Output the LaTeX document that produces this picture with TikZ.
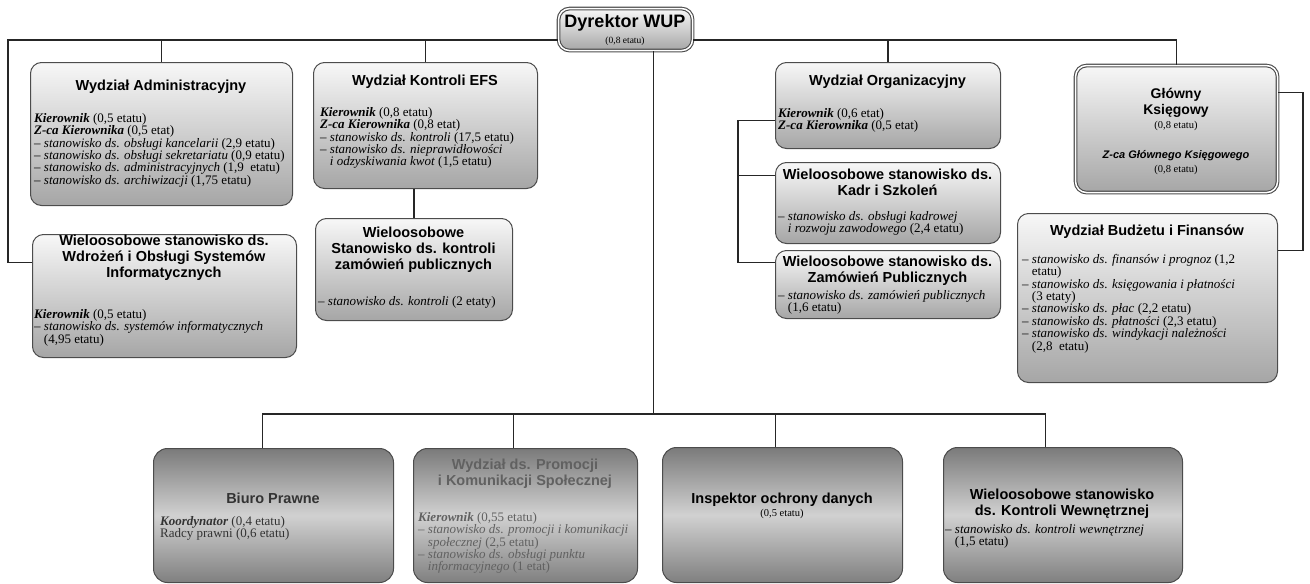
\documentclass[tikz,border=0pt]{standalone}
\usepackage{fontspec}
\setmainfont{Liberation Serif}
\setsansfont{Liberation Sans}
\usepackage{tikz}
\newcommand{\kier}[1]{\textbf{\textit{#1}}}
\newcommand{\ind}{\hphantom{-- }}

\begin{document}
\begin{tikzpicture}[x=1pt, y=-1pt,
    box/.style = {draw=black!70, line width=1pt, rounded corners=11pt, top color=black!3, bottom color=black!35, anchor=north west, inner sep=0pt},
    lowbox/.style = {box, rounded corners=14pt, top color=black!52, bottom color=black!50, middle color=black!18},
    dbl/.style = {double=white, double distance=1.5pt, line width=1.1pt},
    ttl/.style = {font=\sffamily\bfseries\fontsize{14.5}{16}\selectfont, align=center, inner sep=0pt},
    body/.style = {font=\fontsize{13}{12.4}\selectfont, align=left, anchor=north west, inner sep=0pt},
    note/.style = {font=\fontsize{10.5}{12}\selectfont, inner sep=0pt},
    line/.style = {draw=black!85, line width=1.3pt}]
    \useasboundingbox (0,0) rectangle (1310,584);

    % Nodes
    \node[box, dbl, minimum width=134pt, minimum height=42pt] (dyr) at (558,8) {};
    \node[box, minimum width=262pt, minimum height=143pt] (adm) at (30,62) {};
    \node[box, minimum width=264pt, minimum height=123pt] (wdr) at (32,234) {};
    \node[box, minimum width=224pt, minimum height=126pt] (efs) at (313,62) {};
    \node[box, minimum width=197pt, minimum height=102pt] (kzp) at (315,218) {};
    \node[box, minimum width=225pt, minimum height=86pt] (org) at (775,62) {};
    \node[box, minimum width=225pt, minimum height=81pt] (kad) at (775,162) {};
    \node[box, minimum width=225pt, minimum height=68pt] (zam) at (775,250) {};
    \node[box, dbl, minimum width=202pt, minimum height=127pt] (ks) at (1075,65) {};
    \node[box, minimum width=260pt, minimum height=169pt] (bud) at (1017,213) {};
    \node[lowbox, minimum width=240pt, minimum height=134pt] (biu) at (153,448) {};
    \node[lowbox, minimum width=224pt, minimum height=134pt] (pro) at (413,448) {};
    \node[lowbox, minimum width=240pt, minimum height=135pt] (ins) at (662,447) {};
    \node[lowbox, minimum width=239pt, minimum height=135pt] (kw) at (943,447) {};

    % Texts
    \node[ttl, font=\sffamily\bfseries\fontsize{18}{20}\selectfont] (dyrT) at (625,23) {Dyrektor WUP};
    \node[note, font=\fontsize{9.5}{11}\selectfont] (dyrN) at (625,41) {(0,8 etatu)};

    \node[ttl] (admT) at (161,87) {Wydział Administracyjny};
    \node[body] (admB) at (34,113) {\kier{Kierownik} (0,5 etatu)\\
      \kier{Z-ca Kierownika} (0,5 etat)\\
      -- \textit{stanowisko ds. obsługi kancelarii} (2,9 etatu)\\
      -- \textit{stanowisko ds. obsługi sekretariatu} (0,9 etatu)\\
      -- \textit{stanowisko ds. administracyjnych} (1,9 \ etatu)\\
      -- \textit{stanowisko ds. archiwizacji} (1,75 etatu)};

    \node[ttl] (wdrT) at (164,258) {Wieloosobowe stanowisko ds.\\Wdrożeń i Obsługi Systemów\\Informatycznych};
    \node[body] (wdrB) at (34,309) {\kier{Kierownik} (0,5 etatu)\\
      -- \textit{stanowisko ds. systemów informatycznych}\\
      \ind(4,95 etatu)};

    \node[ttl] (efsT) at (425,82) {Wydział Kontroli EFS};
    \node[body] (efsB) at (320,107) {\kier{Kierownik} (0,8 etatu)\\
      \kier{Z-ca Kierownika} (0,8 etat)\\
      -- \textit{stanowisko ds. kontroli} (17,5 etatu)\\
      -- \textit{stanowisko ds. nieprawidłowości}\\
      \ind\textit{i odzyskiwania kwot} (1,5 etatu)};

    \node[ttl] (kzpT) at (413.5,250) {Wieloosobowe\\Stanowisko ds. kontroli\\zamówień publicznych};
    \node[body] (kzpB) at (318,296) {-- \textit{stanowisko ds. kontroli} (2 etaty)};

    \node[ttl] (orgT) at (887.5,82) {Wydział Organizacyjny};
    \node[body] (orgB) at (778,108) {\kier{Kierownik} (0,6 etat)\\
      \kier{Z-ca Kierownika} (0,5 etat)};

    \node[ttl] (kadT) at (887.5,182) {Wieloosobowe stanowisko ds.\\Kadr i Szkoleń};
    \node[body] (kadB) at (778,211) {-- \textit{stanowisko ds. obsługi kadrowej}\\
      \ind\textit{i rozwoju zawodowego} (2,4 etatu)};

    \node[ttl] (zamT) at (887.5,271) {Wieloosobowe stanowisko ds.\\Zamówień Publicznych};
    \node[body] (zamB) at (778,290) {-- \textit{stanowisko ds. zamówień publicznych}\\
      \ind(1,6 etatu)};

    \node[ttl, font=\sffamily\bfseries\fontsize{14}{16}\selectfont] (ksT) at (1176,103) {Główny\\Księgowy};
    \node[note] (ksN) at (1176,126) {(0,8 etatu)};
    \node[note, font=\sffamily\bfseries\itshape\fontsize{11}{12}\selectfont] (ksZ) at (1176,156) {Z-ca Głównego Księgowego};
    \node[note] (ksZN) at (1176,170) {(0,8 etatu)};

    \node[ttl] (budT) at (1147,232) {Wydział Budżetu i Finansów};
    \node[body] (budB) at (1022,254) {-- \textit{stanowisko ds. finansów i prognoz} (1,2\\
      \ind etatu)\\
      -- \textit{stanowisko ds. księgowania i płatności}\\
      \ind(3 etaty)\\
      -- \textit{stanowisko ds. płac} (2,2 etatu)\\
      -- \textit{stanowisko ds. płatności} (2,3 etatu)\\
      -- \textit{stanowisko ds. windykacji należności}\\
      \ind(2,8 \ etatu)};

    \node[ttl, text=black!80] (biuT) at (273,498) {Biuro Prawne};
    \node[body, text=black!80] (biuB) at (160,516) {\kier{Koordynator} (0,4 etatu)\\
      Radcy prawni (0,6 etatu)};

    \node[ttl, text=black!62] (proT) at (525,473.5) {Wydział ds. Promocji\\i Komunikacji Społecznej};
    \node[body, text=black!62] (proB) at (418,512) {\kier{Kierownik} (0,55 etatu)\\
      -- \textit{stanowisko ds. promocji i komunikacji}\\
      \ind\textit{społecznej} (2,5 etatu)\\
      -- \textit{stanowisko ds. obsługi punktu}\\
      \ind\textit{informacyjnego} (1 etat)};

    \node[ttl] (insT) at (782,500) {Inspektor ochrony danych};
    \node[note] (insN) at (782,514) {(0,5 etatu)};

    \node[ttl] (kwT) at (1062,504) {Wieloosobowe stanowisko\\ds. Kontroli Wewnętrznej};
    \node[body] (kwB) at (945,524) {-- \textit{stanowisko ds. kontroli wewnętrznej}\\
      \ind(1,5 etatu)};

    % Edges
    \coordinate (busT) at (0,40);
    \coordinate (busB) at (0,414);
    \coordinate (lft) at (8,0);
    \coordinate (rgt) at (1303,0);
    \coordinate (brk) at (738,0);
    \coordinate (wdrIn) at ([yshift=33.5pt]wdr.west);
    \coordinate (ksOut) at ([yshift=36.5pt]ks.east);
    \coordinate (budIn) at ([yshift=47.5pt]bud.east);
    \coordinate (orgIn) at ([yshift=-15pt]org.west);
    \coordinate (kadIn) at ([yshift=27.5pt]kad.west);
    \coordinate (zamIn) at ([yshift=22pt]zam.west);
    \coordinate (dyrOut) at ([xshift=28pt]dyr.south);
    \coordinate (biuIn) at ([xshift=-11pt]biu.north);
    \coordinate (proIn) at ([xshift=-12pt]pro.north);
    \coordinate (insIn) at ([xshift=-7pt]ins.north);
    \coordinate (kwIn) at ([xshift=-17.5pt]kw.north);

    \draw[line] (dyr.west |- busT) -- (lft |- busT) |- (wdrIn);
    \draw[line] (adm.north) -- (adm.north |- busT);
    \draw[line] (efs.north) -- (efs.north |- busT);
    \draw[line] (dyr.east |- busT) -| (ks.north);
    \draw[line] (org.north) -- (org.north |- busT);
    \draw[line] (efs.south -| kzp.north) -- (kzp.north);
    \draw[line] (ksOut) -| (rgt |- budIn) -- (budIn);
    \draw[line] (orgIn) -- (brk |- orgIn) -- (brk |- zamIn) -- (zamIn);
    \draw[line] (kadIn) -- (brk |- kadIn);
    \draw[line] (dyrOut) -- (dyrOut |- busB);
    \draw[line] (biuIn) |- (kwIn |- busB) -- (kwIn);
    \draw[line] (proIn) -- (proIn |- busB);
    \draw[line] (insIn) -- (insIn |- busB);
\end{tikzpicture}
\end{document}
